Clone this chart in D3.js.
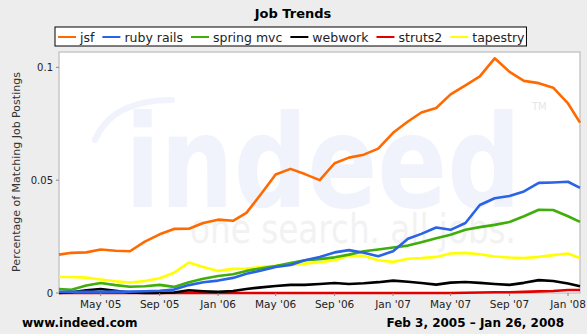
<!DOCTYPE html>
<html>
<head>
<meta charset="utf-8">
<script src="https://cdn.jsdelivr.net/npm/d3@7"></script>
<style>
  body { margin: 0; background: #ededed; }
  svg { display: block; font-family: "DejaVu Sans", sans-serif; }
</style>
</head>
<body>
<svg id="chart" width="587" height="334"></svg>
<script>
// monthly samples
var dates = ["2005-02-03","2005-03-01","2005-04-01","2005-05-01","2005-06-01","2005-07-01","2005-08-01",
  "2005-09-01","2005-10-01","2005-11-01","2005-12-01","2006-01-01","2006-02-01","2006-03-01","2006-04-01",
  "2006-05-01","2006-06-01","2006-07-01","2006-08-01","2006-09-01","2006-10-01","2006-11-01","2006-12-01",
  "2007-01-01","2007-02-01","2007-03-01","2007-04-01","2007-05-01","2007-06-01","2007-07-01","2007-08-01",
  "2007-09-01","2007-10-01","2007-11-01","2007-12-01","2008-01-01","2008-01-26"];

var jsf = [0.0170,0.0178,0.0180,0.0193,0.0187,0.0185,0.0228,0.0260,0.0284,0.0285,0.0310,0.0325,0.0320,
  0.0355,0.0440,0.0525,0.0550,0.0527,0.0500,0.0575,0.0600,0.0613,0.0640,0.0710,0.0760,0.0800,0.0820,
  0.0880,0.0920,0.0960,0.1040,0.0980,0.0940,0.0930,0.0910,0.0840,0.0755];
var rubyRails = [0.0005,0.0005,0.0005,0.0005,0.0006,0.0006,0.0008,0.0010,0.0015,0.0035,0.0048,0.0055,
  0.0067,0.0085,0.0100,0.0115,0.0124,0.0145,0.0160,0.0180,0.0190,0.0178,0.0163,0.0185,0.0240,0.0262,
  0.0290,0.0280,0.0310,0.0390,0.0420,0.0430,0.0450,0.0488,0.0490,0.0493,0.0466];
var springMvc = [0.0018,0.0014,0.0033,0.0044,0.0035,0.0028,0.0030,0.0036,0.0027,0.0048,0.0063,0.0075,
  0.0083,0.0098,0.0110,0.0120,0.0133,0.0145,0.0150,0.0158,0.0170,0.0185,0.0193,0.0202,0.0210,0.0225,
  0.0243,0.0258,0.0280,0.0292,0.0302,0.0315,0.0340,0.0369,0.0368,0.0340,0.0315];
var webwork = [0.0000,0.0003,0.0012,0.0018,0.0010,0.0002,0.0000,0.0000,0.0002,0.0012,0.0008,0.0005,
  0.0009,0.0018,0.0025,0.0031,0.0036,0.0036,0.0040,0.0044,0.0040,0.0043,0.0048,0.0055,0.0050,0.0044,
  0.0037,0.0046,0.0049,0.0045,0.0040,0.0036,0.0045,0.0057,0.0053,0.0042,0.0030];
var struts2 = [0,0,0,0,0,0,0,0,0,0,0,0,0,0,0,0,0,0,0,0,0,0,0,0,0,0,0,0,
  0.0001,0.0002,0.0003,0.0003,0.0005,0.0007,0.0009,0.0013,0.0013];
var tapestry = [0.0071,0.0071,0.0068,0.0060,0.0052,0.0046,0.0053,0.0065,0.0090,0.0135,0.0115,0.0098,
  0.0107,0.0108,0.0115,0.0121,0.0124,0.0130,0.0136,0.0145,0.0165,0.0165,0.0145,0.0138,0.0152,0.0155,
  0.0160,0.0175,0.0178,0.0172,0.0162,0.0157,0.0155,0.0160,0.0168,0.0175,0.0155];

var seriesNames = ["jsf", "ruby rails", "spring mvc", "webwork", "struts2", "tapestry"];
var seriesValues = [jsf, rubyRails, springMvc, webwork, struts2, tapestry];
var seriesColors = ["#ff6a00", "#2a63e8", "#3fae0a", "#000000", "#e00000", "#ffff00"];

var yTicks = [0, 0.05, 0.1];
var yTickLabels = ["0", "0.05", "0.1"];
var xTicks = ["2005-05-01","2005-09-01","2006-01-01","2006-05-01","2006-09-01",
  "2007-01-01","2007-05-01","2007-09-01","2008-01-01"];

var parse = d3.timeParse("%Y-%m-%d");
var svg = d3.select("#chart");

var plot = {left: 59, right: 580, top: 52, bottom: 293};

var x = d3.scaleTime()
  .domain([parse(dates[0]), parse(dates[dates.length - 1])])
  .range([plot.left, plot.right]);
var y = d3.scaleLinear()
  .domain([0, 0.1068])
  .range([plot.bottom, plot.top]);

// title
svg.append("text").attr("x", 293).attr("y", 18).attr("text-anchor", "middle")
  .style("font-size", "13px").style("font-weight", "bold").text("Job Trends");

// plot background
svg.append("rect").attr("x", plot.left).attr("y", plot.top)
  .attr("width", plot.right - plot.left).attr("height", plot.bottom - plot.top)
  .attr("fill", "#fff").attr("stroke", "#c8c8c8").attr("stroke-width", 1.5);

// watermark
var wm = svg.append("g");
wm.append("path")
  .attr("d", "M95,140 Q112,100 172,100")
  .attr("fill", "none").attr("stroke", "#f1f3fc").attr("stroke-width", 6).attr("stroke-linecap", "round");
wm.append("text").attr("x", 125).attr("y", 207)
  .attr("textLength", 396).attr("lengthAdjust", "spacingAndGlyphs")
  .style("font-size", "128px").style("font-weight", "bold").style("fill", "#f0f2fc")
  .text("indeed");
wm.append("text").attr("x", 190).attr("y", 243)
  .attr("textLength", 326).attr("lengthAdjust", "spacingAndGlyphs")
  .style("font-size", "40px").style("fill", "#f2f2f2")
  .text("one search. all jobs.");
wm.append("text").attr("x", 532).attr("y", 110)
  .style("font-size", "10px").style("fill", "#e6e6e6").text("TM");

// lines, legend order reversed so jsf sits on top
var line = d3.line()
  .x(function(d, i){ return x(parse(dates[i])); })
  .y(function(d){ return y(d); })
  .curve(d3.curveLinear);

for (var k = seriesValues.length - 1; k >= 0; k--) {
  svg.append("path")
    .datum(seriesValues[k])
    .attr("d", line)
    .attr("fill", "none")
    .attr("stroke", seriesColors[k])
    .attr("stroke-width", 2.6)
    .attr("stroke-linejoin", "round");
}

// y axis
var yAxis = svg.append("g");
yTicks.forEach(function(t, i){
  yAxis.append("line").attr("x1", plot.left - 3).attr("x2", plot.left)
    .attr("y1", y(t)).attr("y2", y(t)).attr("stroke", "#888");
  yAxis.append("text").attr("x", 53).attr("y", y(t)).attr("dy", "0.35em")
    .attr("text-anchor", "end").style("font-size", "10px").style("fill", "#222")
    .text(yTickLabels[i]);
});
svg.append("text")
  .attr("transform", "translate(20," + 172 + ") rotate(-90)")
  .attr("text-anchor", "middle").style("font-size", "11px").style("fill", "#333")
  .text("Percentage of Matching Job Postings");

// x axis
var monthFmt = d3.timeFormat("%b '%y");
xTicks.forEach(function(t){
  var xx = x(parse(t));
  svg.append("line").attr("x1", xx).attr("x2", xx)
    .attr("y1", plot.bottom).attr("y2", plot.bottom + 3).attr("stroke", "#888");
  svg.append("text").attr("x", xx).attr("y", 308).attr("text-anchor", "middle")
    .style("font-size", "10.5px").style("fill", "#222").text(monthFmt(parse(t)));
});

// footer
svg.append("text").attr("x", 22).attr("y", 327)
  .style("font-size", "12px").style("font-weight", "bold").text("www.indeed.com");
svg.append("text").attr("x", 564).attr("y", 327).attr("text-anchor", "end")
  .style("font-size", "12px").style("font-weight", "bold").text("Feb 3, 2005 \u2013 Jan 26, 2008");

// legend
var legend = svg.append("g");
var box = legend.append("rect").attr("x", 55).attr("y", 27).attr("height", 19)
  .attr("fill", "#fff").attr("stroke", "#000").attr("stroke-width", 1);
var lx = 58;
seriesNames.forEach(function(name, i){
  legend.append("line").attr("x1", lx).attr("x2", lx + 18)
    .attr("y1", 37).attr("y2", 37).attr("stroke", seriesColors[i]).attr("stroke-width", 2);
  var t = legend.append("text").attr("x", lx + 22).attr("y", 41.5)
    .style("font-size", "12.5px").style("fill", "#222").text(name);
  lx = lx + 22 + t.node().getComputedTextLength() + 8;
});
box.attr("width", lx - 55 - 6);
</script>
</body>
</html>
